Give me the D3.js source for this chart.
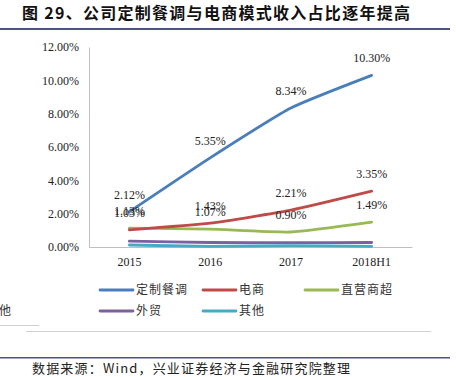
<!DOCTYPE html>
<html>
<head>
<meta charset="utf-8">
<script src="https://cdn.jsdelivr.net/npm/d3@7"></script>
<style>
  body { margin: 0; background: #fff; }
  svg { display: block; }
</style>
</head>
<body>
<script>
// categories and series (percent)
const categories = ["2015", "2016", "2017", "2018H1"];
const dingzhi = [2.12, 5.35, 8.34, 10.30];     // 定制餐调
const dianshang = [1.03, 1.43, 2.21, 3.35];    // 电商
const zhiying = [1.13, 1.07, 0.90, 1.49];      // 直营商超
const waimao = [0.35, 0.27, 0.26, 0.27];       // 外贸
const qita = [0.12, 0.04, 0.08, 0.04];         // 其他
const yTicks = [0, 2, 4, 6, 8, 10, 12];

const seriesNames = ["定制餐调", "电商", "直营商超", "外贸", "其他"];
const seriesColors = ["#4a7ebb", "#be4b48", "#98b954", "#7d60a0", "#46aac5"];
const showLabels = [true, true, true, false, false];
const series = [dingzhi, dianshang, zhiying, waimao, qita];

const W = 456, H = 377;
const svg = d3.select("body").append("svg")
    .attr("width", W)
    .attr("height", H);

const serif = "'Liberation Serif', 'Times New Roman', serif";
const cjk = "'Noto Sans CJK SC', sans-serif";

// title
svg.append("text")
    .attr("x", 22)
    .attr("y", 19)
    .attr("font-family", cjk)
    .attr("font-size", 16)
    .attr("font-weight", "bold")
    .attr("fill", "#111")
    .attr("textLength", 388)
    .attr("lengthAdjust", "spacing")
    .text("图 29、公司定制餐调与电商模式收入占比逐年提高");

svg.append("rect")
    .attr("x", 0).attr("y", 28)
    .attr("width", 450).attr("height", 2)
    .attr("fill", "#4f5188");

// scales
const x = d3.scaleBand()
    .domain(categories)
    .range([89, 412]);
const y = d3.scaleLinear()
    .domain([0, 12])
    .range([247, 47]);

const g = svg.append("g");

// y axis
const yAxis = g.append("g")
    .attr("transform", "translate(89,0)")
    .call(d3.axisLeft(y).tickValues(yTicks).tickSize(0).tickPadding(10)
        .tickFormat(d => d.toFixed(2) + "%"));
yAxis.select(".domain").attr("stroke", "#bfbfbf");
yAxis.selectAll("text")
    .attr("font-family", serif)
    .attr("font-size", 12)
    .attr("fill", "#222");

// x axis
const xAxis = g.append("g")
    .attr("transform", "translate(0,247)")
    .call(d3.axisBottom(x).tickSize(0).tickPadding(10));
xAxis.select(".domain").attr("stroke", "#bfbfbf");
xAxis.selectAll("text")
    .attr("font-family", serif)
    .attr("font-size", 12)
    .attr("fill", "#222");

const cx = c => x(c) + x.bandwidth() / 2;

const line = d3.line()
    .x((d, i) => cx(categories[i]))
    .y(d => y(d))
    .curve(d3.curveCardinal.tension(0.5));

// draw lines back to front
for (let s = series.length - 1; s >= 0; s--) {
    g.append("path")
        .datum(series[s])
        .attr("fill", "none")
        .attr("stroke", seriesColors[s])
        .attr("stroke-width", 2.8)
        .attr("stroke-linecap", "round")
        .attr("d", line);
}

// data labels
series.forEach((vals, s) => {
    if (!showLabels[s]) return;
    g.selectAll(null)
        .data(vals)
        .join("text")
        .attr("x", (d, i) => cx(categories[i]))
        .attr("y", d => y(d) - 13)
        .attr("text-anchor", "middle")
        .attr("font-family", serif)
        .attr("font-size", 12)
        .attr("fill", "#222")
        .text(d => d.toFixed(2) + "%");
});

// legend
const legendPos = [[100, 290], [203, 290], [305, 290], [100, 311], [203, 311]];
seriesNames.forEach((name, s) => {
    const [lx, ly] = legendPos[s];
    svg.append("line")
        .attr("x1", lx).attr("x2", lx + 33)
        .attr("y1", ly).attr("y2", ly)
        .attr("stroke", seriesColors[s])
        .attr("stroke-width", 2.8)
        .attr("stroke-linecap", "round");
    svg.append("text")
        .attr("x", lx + 36)
        .attr("y", ly + 4)
        .attr("font-family", cjk)
        .attr("font-size", 12)
        .attr("letter-spacing", 1)
        .attr("fill", "#333")
        .text(name);
});

// stray fragment at left edge
svg.append("text")
    .attr("x", 11)
    .attr("y", 315)
    .attr("text-anchor", "end")
    .attr("font-family", cjk)
    .attr("font-size", 12)
    .attr("fill", "#333")
    .text("其他");

svg.append("line")
    .attr("x1", 0).attr("x2", 39)
    .attr("y1", 325.5).attr("y2", 325.5)
    .attr("stroke", "#d0d0d0");
svg.append("line")
    .attr("x1", 26).attr("x2", 431)
    .attr("y1", 331.5).attr("y2", 331.5)
    .attr("stroke", "#d0d0d0");

// source
svg.append("rect")
    .attr("x", 0).attr("y", 357)
    .attr("width", 450).attr("height", 1.5)
    .attr("fill", "#4f5188");
svg.append("text")
    .attr("x", 32)
    .attr("y", 373)
    .attr("font-family", cjk)
    .attr("font-size", 13)
    .attr("fill", "#222")
    .attr("textLength", 318)
    .attr("lengthAdjust", "spacing")
    .text("数据来源：Wind，兴业证券经济与金融研究院整理");
</script>
</body>
</html>
